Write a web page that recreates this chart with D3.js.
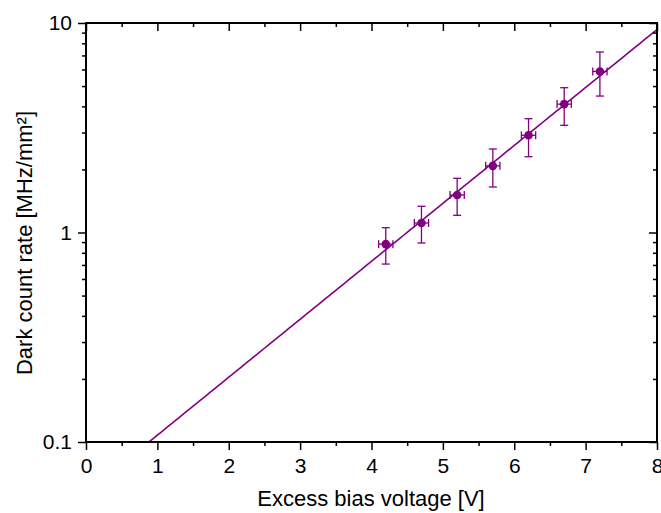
<!DOCTYPE html>
<html><head><meta charset="utf-8">
<script src="https://cdn.jsdelivr.net/npm/d3@7"></script>
<style>html,body{margin:0;padding:0;background:#fff;}svg{display:block;}</style>
</head><body>
<svg id="chart" width="661" height="513"></svg>
<script>
// Data
const voltage = [4.2, 4.7, 5.2, 5.7, 6.2, 6.7, 7.2];
const rate = [0.88, 1.11, 1.51, 2.08, 2.91, 4.10, 5.87];
const rateUpper = [1.054, 1.334, 1.814, 2.504, 3.493, 4.911, 7.27];
const rateLower = [0.707, 0.891, 1.208, 1.649, 2.300, 3.248, 4.48];
const voltageErr = [0.1, 0.1, 0.1, 0.1, 0.1, 0.1, 0.1];
const fitIntercept = -1.244; // log10 intercept
const fitSlope = 0.2766;     // decades per volt
const xTicks = [0, 1, 2, 3, 4, 5, 6, 7, 8];
const yTicks = [0.1, 1, 10];
const yTickLabels = ["0.1", "1", "10"];

const svg = d3.select("#chart");
const L = 86, R = 657, T = 23, B = 442;
const x = d3.scaleLinear().domain([0, 8]).range([L, R]);
const y = d3.scaleLog().domain([0.1, 10]).range([B, T]);
const purple = "#800080";
const font = "Liberation Sans, Arial, sans-serif";

const minorX = d3.range(0.5, 8, 1);
const minorY = [];
[0.1, 1].forEach(d => { for (let k = 2; k <= 9; k++) minorY.push(d * k); });

svg.append("defs").append("clipPath").attr("id", "clip")
  .append("rect").attr("x", L).attr("y", T).attr("width", R - L).attr("height", B - T);

// fit line
const fitX = d3.range(0, 8.0001, 0.05);
svg.append("path")
  .datum(fitX)
  .attr("clip-path", "url(#clip)")
  .attr("fill", "none").attr("stroke", purple).attr("stroke-width", 1.6)
  .attr("d", d3.line().x(d => x(d)).y(d => y(Math.pow(10, fitIntercept + fitSlope * d))));

// error bars
const g = svg.append("g").attr("stroke", purple).attr("stroke-width", 1.3).attr("fill", "none");
voltage.forEach((v, i) => {
  const cx = x(v), cy = y(rate[i]);
  const yt = y(rateUpper[i]), yb = y(rateLower[i]);
  g.append("line").attr("x1", cx).attr("x2", cx).attr("y1", yt).attr("y2", yb);
  g.append("line").attr("x1", cx - 4).attr("x2", cx + 4).attr("y1", yt).attr("y2", yt);
  g.append("line").attr("x1", cx - 4).attr("x2", cx + 4).attr("y1", yb).attr("y2", yb);
  const xl = x(v - voltageErr[i]), xr = x(v + voltageErr[i]);
  g.append("line").attr("x1", xl).attr("x2", xr).attr("y1", cy).attr("y2", cy);
  g.append("line").attr("x1", xl).attr("x2", xl).attr("y1", cy - 4).attr("y2", cy + 4);
  g.append("line").attr("x1", xr).attr("x2", xr).attr("y1", cy - 4).attr("y2", cy + 4);
});
svg.append("g").selectAll("circle").data(voltage).join("circle")
  .attr("cx", d => x(d)).attr("cy", (d, i) => y(rate[i])).attr("r", 4.3)
  .attr("fill", purple);

// axes
function styleAxis(sel) {
  sel.select(".domain").remove();
  sel.selectAll("line").attr("stroke", "#000").attr("stroke-width", 1.5);
}
// bottom
const bottom = svg.append("g").attr("transform", `translate(0,${B})`)
  .call(d3.axisBottom(x).tickValues(xTicks).tickSize(8).tickPadding(8).tickFormat(d3.format("d")));
bottom.call(styleAxis);
bottom.selectAll("text").attr("font-family", font).attr("font-size", 21).attr("fill", "#000");
svg.append("g").attr("transform", `translate(0,${B})`)
  .call(d3.axisBottom(x).tickValues(minorX).tickSize(4).tickFormat("")).call(styleAxis);
// top
svg.append("g").attr("transform", `translate(0,${T})`)
  .call(d3.axisBottom(x).tickValues(xTicks).tickSize(8).tickFormat("")).call(styleAxis);
svg.append("g").attr("transform", `translate(0,${T})`)
  .call(d3.axisBottom(x).tickValues(minorX).tickSize(4).tickFormat("")).call(styleAxis);
// left
const left = svg.append("g").attr("transform", `translate(${L},0)`)
  .call(d3.axisLeft(y).tickValues(yTicks).tickSize(8).tickPadding(6).tickFormat((d, i) => yTickLabels[i]));
left.call(styleAxis);
left.selectAll("text").attr("font-family", font).attr("font-size", 21).attr("fill", "#000");
svg.append("g").attr("transform", `translate(${L},0)`)
  .call(d3.axisLeft(y).tickValues(minorY).tickSize(4).tickFormat("")).call(styleAxis);
// right
svg.append("g").attr("transform", `translate(${R},0)`)
  .call(d3.axisLeft(y).tickValues(yTicks).tickSize(8).tickFormat("")).call(styleAxis);
svg.append("g").attr("transform", `translate(${R},0)`)
  .call(d3.axisLeft(y).tickValues(minorY).tickSize(4).tickFormat("")).call(styleAxis);

// frame
svg.append("rect").attr("x", L).attr("y", T).attr("width", R - L).attr("height", B - T)
  .attr("fill", "none").attr("stroke", "#000").attr("stroke-width", 2);

// titles
svg.append("text").attr("x", 371).attr("y", 506).attr("text-anchor", "middle")
  .attr("font-family", font).attr("font-size", 22).attr("fill", "#000")
  .text("Excess bias voltage [V]");
svg.append("text").attr("transform", `translate(32,243) rotate(-90)`)
  .attr("text-anchor", "middle")
  .attr("font-family", font).attr("font-size", 22).attr("fill", "#000")
  .text("Dark count rate [MHz/mm²]");
</script>
</body></html>
